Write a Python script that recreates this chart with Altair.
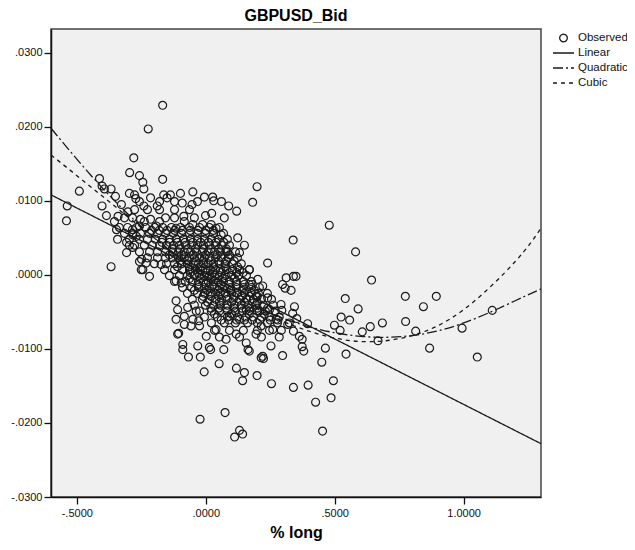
import altair as alt
import pandas as pd

# ---------------- data ----------------
series_names = ["Observed", "Linear", "Quadratic", "Cubic"]

obs_x = [
    -0.167, -0.223, -0.279, -0.295, -0.257, -0.244, -0.240, -0.167, -0.412, -0.490,
    -0.537, -0.540, -0.402, -0.393, -0.367, -0.350, -0.402, -0.385, -0.340, -0.327,
    -0.296, -0.276, -0.271, -0.240, -0.214, -0.188, -0.163, -0.150, -0.137, -0.098,
    -0.050, -0.005, -0.091, -0.053, -0.302, -0.253, -0.214, -0.156, -0.085, -0.001,
    0.199, 0.182, 0.027, 0.031, 0.089, 0.120, 0.023, 0.021, 0.479, -0.367,
    -0.218, -0.250, 0.339, 0.240, 0.581, 0.643, 0.774, 0.894, 0.844, 0.541,
    0.591, 0.525, 0.558, 0.775, 0.685, 0.638, 0.499, 0.521, 0.607, 0.814,
    0.994, 1.111, 0.668, 0.868, 0.464, 0.544, 1.053, 0.298, 0.312, 0.340,
    0.350, 0.298, 0.308, 0.331, 0.344, 0.295, 0.337, 0.353, 0.395, 0.318,
    0.340, 0.363, 0.374, 0.374, -0.089, -0.067, -0.021, 0.019, 0.070, 0.164,
    0.215, 0.224, 0.380, 0.450, -0.006, 0.052, 0.119, 0.150, 0.143, 0.199,
    0.255, 0.340, 0.397, 0.495, 0.486, 0.426, 0.075, -0.022, 0.131, 0.143,
    0.112, 0.453,
    0.124, 0.150, 0.131, 0.079, 0.060, 0.040, -0.012, -0.050, -0.115, -0.192,
    -0.257, -0.283, -0.283, -0.257, -0.231, -0.244, -0.173, -0.115, -0.095, 0.169,
    0.202, 0.169, 0.240, -0.115, -0.109, -0.115, -0.083, -0.109, -0.083, -0.057,
    -0.024, -0.070, -0.037, -0.089, -0.031, 0.014, 0.002, 0.040, 0.079, 0.118,
    0.157, 0.195, 0.215, 0.260, 0.253, 0.221, 0.169, 0.131, 0.092, 0.157,
    0.208, 0.247, 0.195, 0.221, 0.292, 0.273,
    -0.346, -0.307, -0.296, -0.307, -0.249, -0.284, -0.269, -0.105, -0.050, -0.027,
]
obs_y = [
    0.0229, 0.0197, 0.0158, 0.0138, 0.0134, 0.0125, 0.0116, 0.0129, 0.0130, 0.0113,
    0.0093, 0.0073, 0.0120, 0.0116, 0.0116, 0.0106, 0.0093, 0.0080, 0.0079, 0.0095,
    0.0110, 0.0108, 0.0103, 0.0093, 0.0104, 0.0093, 0.0108, 0.0104, 0.0108, 0.0110,
    0.0112, 0.0105, 0.0097, 0.0095, 0.0085, 0.0075, 0.0075, 0.0077, 0.0079, 0.0080,
    0.0119, 0.0098, 0.0105, 0.0100, 0.0093, 0.0086, 0.0083, 0.0068, 0.0067, 0.0011,
    -0.0002, 0.0007, 0.0047, 0.0016, 0.0031, -0.0007, -0.0029, -0.0029, -0.0043, -0.0032,
    -0.0046, -0.0057, -0.0061, -0.0063, -0.0065, -0.0070, -0.0068, -0.0075, -0.0077, -0.0076,
    -0.0072, -0.0048, -0.0089, -0.0099, -0.0099, -0.0107, -0.0111, -0.0109, -0.0004, -0.0002,
    -0.0002, -0.0013, -0.0018, -0.0021, -0.0043, -0.0048, -0.0052, -0.0059, -0.0066, -0.0067,
    -0.0076, -0.0083, -0.0087, -0.0097, -0.0101, -0.0111, -0.0111, -0.0101, -0.0101, -0.0101,
    -0.0112, -0.0113, -0.0103, -0.0118, -0.0131, -0.0120, -0.0126, -0.0132, -0.0143, -0.0136,
    -0.0147, -0.0152, -0.0149, -0.0143, -0.0166, -0.0172, -0.0186, -0.0195, -0.0210, -0.0215,
    -0.0219, -0.0211,
    0.0050, 0.0040, 0.0030, 0.0032, 0.0054, 0.0063, 0.0068, 0.0068, 0.0063, 0.0066,
    0.0066, 0.0054, 0.0037, 0.0018, 0.0016, 0.0007, 0.0014, -0.0008, -0.0011, 0.0007,
    -0.0006, -0.0013, -0.0031, -0.0035, -0.0047, -0.0060, -0.0056, -0.0080, -0.0067, -0.0069,
    -0.0069, -0.0044, -0.0049, -0.0094, -0.0096, -0.0098, -0.0083, -0.0074, -0.0087, -0.0080,
    -0.0092, -0.0080, -0.0069, -0.0074, -0.0096, -0.0110, -0.0103, -0.0060, -0.0056, -0.0047,
    -0.0049, -0.0047, -0.0029, -0.0015, -0.0040, -0.0060,
    0.0061, 0.0030, 0.0040, 0.0044, 0.0021, 0.0061, 0.0052, -0.0079, -0.0060, -0.0062,
]

# dense core of the cloud, read row by row (row y value, x positions in that row)
core_y = [0.0064, 0.0056, 0.0048, 0.0040, 0.0031, 0.0023, 0.0015, 0.0007, -0.0001,
          -0.0009, -0.0017, -0.0025, -0.0033, -0.0041, -0.0049, -0.0057, -0.0065,
          -0.0075, -0.0084, 0.0027, 0.0011, -0.0005, -0.0021, -0.0037, -0.0053,
          0.0088, 0.0077, 0.0072, 0.0099,
          0.0060, 0.0044, 0.0035, 0.0019, 0.0003, -0.0013, -0.0029, -0.0045, -0.0061]
core_x = [
    [-0.335, -0.303, -0.268, -0.233, -0.198, -0.167, -0.133, -0.098, -0.063, -0.024, 0.014, 0.053],
    [-0.315, -0.284, -0.253, -0.218, -0.187, -0.156, -0.125, -0.094, -0.063, -0.032, -0.001, 0.030, 0.069],
    [-0.342, -0.296, -0.257, -0.226, -0.195, -0.167, -0.141, -0.114, -0.086, -0.059, -0.032, -0.005, 0.022, 0.049, 0.084],
    [-0.276, -0.238, -0.207, -0.179, -0.152, -0.125, -0.102, -0.078, -0.055, -0.032, -0.009, 0.014, 0.038, 0.061, 0.092],
    [-0.257, -0.218, -0.187, -0.156, -0.129, -0.106, -0.083, -0.059, -0.036, -0.013, 0.010, 0.034, 0.057, 0.084, 0.115],
    [-0.226, -0.187, -0.156, -0.129, -0.106, -0.083, -0.063, -0.044, -0.024, -0.005, 0.014, 0.038, 0.061, 0.088, 0.123],
    [-0.199, -0.152, -0.121, -0.094, -0.071, -0.048, -0.028, -0.009, 0.010, 0.030, 0.053, 0.076, 0.103, 0.138],
    [-0.160, -0.121, -0.090, -0.063, -0.040, -0.021, -0.001, 0.018, 0.038, 0.057, 0.080, 0.103, 0.131, 0.169],
    [-0.141, -0.102, -0.071, -0.044, -0.024, -0.005, 0.014, 0.034, 0.053, 0.076, 0.100, 0.127, 0.158],
    [-0.121, -0.079, -0.052, -0.028, -0.009, 0.010, 0.030, 0.049, 0.069, 0.092, 0.119, 0.146, 0.177],
    [-0.090, -0.055, -0.028, -0.005, 0.014, 0.034, 0.053, 0.073, 0.096, 0.119, 0.146, 0.177, 0.208],
    [-0.071, -0.032, -0.005, 0.018, 0.038, 0.057, 0.076, 0.100, 0.123, 0.150, 0.177, 0.204, 0.239],
    [-0.052, -0.013, 0.014, 0.038, 0.061, 0.084, 0.107, 0.131, 0.158, 0.185, 0.216, 0.255],
    [-0.044, -0.001, 0.030, 0.057, 0.084, 0.111, 0.138, 0.165, 0.193, 0.224, 0.262],
    [-0.024, 0.022, 0.053, 0.084, 0.115, 0.142, 0.169, 0.200, 0.231, 0.270],
    [-0.005, 0.045, 0.084, 0.123, 0.154, 0.185, 0.216, 0.247, 0.285],
    [0.022, 0.072, 0.115, 0.162, 0.200, 0.239, 0.278, 0.324],
    [0.034, 0.092, 0.146, 0.200, 0.247, 0.293],
    [0.053, 0.131, 0.216, 0.285],
    [-0.141, -0.094, -0.048, -0.001, 0.045, 0.092],
    [-0.110, -0.063, -0.017, 0.030, 0.076, 0.123],
    [-0.063, -0.021, 0.022, 0.065, 0.111],
    [-0.044, 0.003, 0.049, 0.096, 0.142, 0.189],
    [0.007, 0.053, 0.100, 0.150, 0.200],
    [0.034, 0.100, 0.169, 0.227],
    [-0.276, -0.226, -0.179, -0.121, -0.063],
    [-0.315, -0.284, -0.121, -0.044, 0.072],
    [-0.354, -0.238, -0.179, -0.083],
    [-0.257, -0.179, -0.121, -0.032, 0.061],
    [-0.21, -0.18, -0.15, -0.12, -0.09, -0.06, -0.03, 0.00, 0.03],
    [-0.17, -0.14, -0.11, -0.08, -0.05, -0.02, 0.01, 0.04, 0.07],
    [-0.13, -0.10, -0.07, -0.04, -0.01, 0.02, 0.05, 0.08],
    [-0.10, -0.07, -0.04, -0.01, 0.02, 0.05, 0.08, 0.11],
    [-0.06, -0.03, 0.00, 0.03, 0.06, 0.09, 0.12, 0.145],
    [-0.03, 0.00, 0.03, 0.06, 0.09, 0.12, 0.15, 0.18],
    [-0.01, 0.02, 0.05, 0.08, 0.11, 0.14, 0.17, 0.20],
    [0.02, 0.05, 0.08, 0.11, 0.14, 0.17, 0.20, 0.24],
    [0.06, 0.09, 0.12, 0.15, 0.18, 0.21, 0.25, 0.28],
]

# fitted curves
lin_x = [-0.6, 1.3]
lin_y = [0.0108, -0.0228]
fit_x = [-0.6, -0.4, -0.2, 0.0, 0.2, 0.4, 0.6, 0.8, 1.0, 1.2, 1.3]
quad_y = [0.0198, 0.0117, 0.0050, -0.0004, -0.0044, -0.0070, -0.0083, -0.0082, -0.0065, -0.0035, -0.0019]
cubic_y = [0.0162, 0.0106, 0.0050, -0.0002, -0.0046, -0.0076, -0.0090, -0.0082, -0.0047, 0.0018, 0.0063]

# ---------------- tables ----------------
px, py = list(obs_x), list(obs_y)
for yv, xs in zip(core_y, core_x):
    px.extend(xs)
    py.extend([yv] * len(xs))
points = pd.DataFrame({"x": px, "y": py, "series": "Observed"})

lines = pd.concat([
    pd.DataFrame({"x": lin_x, "y": lin_y, "series": "Linear"}),
    pd.DataFrame({"x": fit_x, "y": quad_y, "series": "Quadratic"}),
    pd.DataFrame({"x": fit_x, "y": cubic_y, "series": "Cubic"}),
])

FONT = "Liberation Sans"
label_expr = ("(datum.value < 0 ? '-' : '') + (abs(datum.value) < 1 ? "
              "slice(format(abs(datum.value), '.4f'), 1) : format(abs(datum.value), '.4f'))")

xscale = alt.Scale(domain=[-0.6, 1.3], nice=False, zero=False)
yscale = alt.Scale(domain=[-0.03, 0.0332], nice=False, zero=False)

xaxis = alt.Axis(values=[-0.5, 0.0, 0.5, 1.0], labelExpr=label_expr, title="% long",
                 grid=False, tickSize=7, labelPadding=3, titlePadding=6,
                 titleFont=FONT, titleFontSize=16, titleFontWeight="bold", titleColor="#000")
yaxis = alt.Axis(values=[-0.03, -0.02, -0.01, 0.0, 0.01, 0.02, 0.03], labelExpr=label_expr,
                 title=None, grid=False, tickSize=7, labelPadding=2)

circle_path = "M0.36,0A0.36,0.36,0,1,1,-0.36,0A0.36,0.36,0,1,1,0.36,0Z"
line_path = "M-1,0L1,0"
shape_scale = alt.Scale(domain=series_names,
                        range=[circle_path, line_path, line_path, line_path])
dash_scale = alt.Scale(domain=series_names,
                       range=[[1, 0], [1, 0], [10, 3, 2, 3], [4, 4]])

legend_def = alt.Legend(title=None, orient="none", legendX=501, legendY=1.5,
                        rowPadding=0, clipHeight=15)

scatter = alt.Chart(points).mark_point(
    filled=False, color="#1a1a1a", size=484, strokeWidth=1.2, opacity=1
).encode(
    x=alt.X("x:Q", scale=xscale, axis=xaxis),
    y=alt.Y("y:Q", scale=yscale, axis=yaxis),
    shape=alt.Shape("series:N", scale=shape_scale, legend=legend_def),
)

fits = alt.Chart(lines).mark_line(
    color="#1a1a1a", strokeWidth=1.3, interpolate="natural"
).encode(
    x=alt.X("x:Q", scale=xscale, axis=xaxis),
    y=alt.Y("y:Q", scale=yscale, axis=yaxis),
    strokeDash=alt.StrokeDash("series:N", scale=dash_scale, legend=legend_def),
    detail="series:N",
)

chart = alt.layer(scatter, fits).properties(
    width=490,
    height=468,
    padding={"left": 43, "top": 21, "right": 86, "bottom": 45},
    autosize=alt.AutoSizeParams(type="none"),
    title=alt.TitleParams("GBPUSD_Bid", font=FONT, fontSize=16, fontWeight="bold",
                          color="#000", anchor="middle", offset=5),
).configure_view(
    fill="#f0f0f0", stroke="#444444", strokeWidth=1.5
).configure_axis(
    labelFont=FONT, labelFontSize=11, labelColor="#111", domainColor="#111",
    domainWidth=1.5, tickColor="#111", tickWidth=1.3,
).configure_legend(
    padding=0, labelFont=FONT, labelFontSize=11.5,
    labelColor="#111", symbolSize=441, symbolStrokeWidth=1.3,
    symbolStrokeColor="#1a1a1a", symbolFillColor="transparent",
    labelOffset=3,
)

chart.save("out.html", embed_options={"renderer": "svg", "actions": False})
